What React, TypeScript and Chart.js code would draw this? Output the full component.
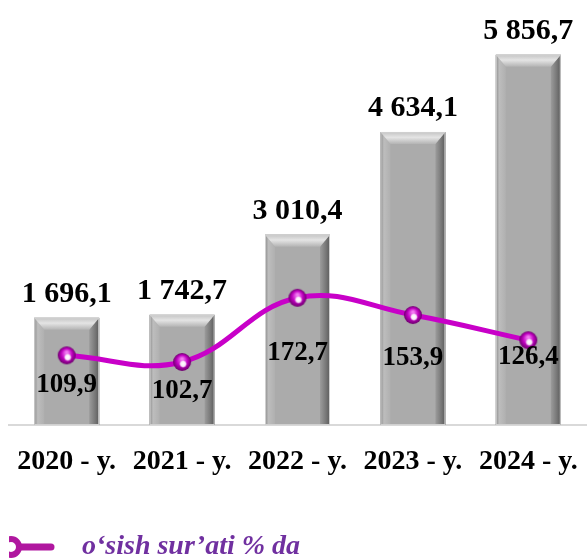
import React, { useEffect, useRef } from 'react';
import { Chart, registerables } from 'chart.js';

Chart.register(...registerables);

const years = ['2020 - y.', '2021 - y.', '2022 - y.', '2023 - y.', '2024 - y.'];
const volumes = [1696.1, 1742.7, 3010.4, 4634.1, 5856.7];
const growth = [109.9, 102.7, 172.7, 153.9, 126.4];
const legendLabel = 'o‘sish sur’ati % da';

const FONT = '"Liberation Serif", "Times New Roman", serif';

function fmt(v: number): string {
  const [i, d] = v.toFixed(1).split('.');
  return i.replace(/\B(?=(\d{3})+(?!\d))/g, ' ') + ',' + d;
}

function makeSphere(r: number): HTMLCanvasElement {
  const s = r * 2 + 2;
  const c = document.createElement('canvas');
  c.width = s;
  c.height = s;
  const g = c.getContext('2d') as CanvasRenderingContext2D;
  const cx = s / 2;
  const cy = s / 2;
  const grad = g.createRadialGradient(cx, cy - 3, 1, cx, cy, r);
  grad.addColorStop(0, '#F27AF2');
  grad.addColorStop(0.55, '#C000C0');
  grad.addColorStop(1, '#6E006E');
  g.fillStyle = grad;
  g.beginPath();
  g.arc(cx, cy, r, 0, Math.PI * 2);
  g.fill();
  const hl = g.createRadialGradient(cx + 1, cy + 2, 0, cx + 1, cy + 2, 4);
  hl.addColorStop(0, 'rgba(255,255,255,1)');
  hl.addColorStop(0.6, 'rgba(255,255,255,0.9)');
  hl.addColorStop(1, 'rgba(255,255,255,0)');
  g.fillStyle = hl;
  g.beginPath();
  g.arc(cx + 1, cy + 2, 4, 0, Math.PI * 2);
  g.fill();
  return c;
}

function makeLegendMarker(): HTMLCanvasElement {
  const c = document.createElement('canvas');
  c.width = 79;
  c.height = 26;
  const g = c.getContext('2d') as CanvasRenderingContext2D;
  const col = '#B0179F';
  g.strokeStyle = col;
  g.lineCap = 'round';
  g.lineWidth = 7;
  g.beginPath();
  g.moveTo(18, 13);
  g.lineTo(52, 13);
  g.stroke();
  g.lineWidth = 6;
  g.fillStyle = '#ffffff';
  g.beginPath();
  g.arc(12, 13, 8, 0, Math.PI * 2);
  g.fill();
  g.stroke();
  return c;
}

const bevelPlugin = {
  id: 'bevelBars',
  afterDatasetDraw(chart: any, args: any) {
    if (args.index !== 1) return;
    const ctx: CanvasRenderingContext2D = chart.ctx;
    const meta = chart.getDatasetMeta(1);
    meta.data.forEach((el: any) => {
      const p = el.getProps(['x', 'y', 'base', 'width'], true);
      const left = p.x - p.width / 2;
      const right = p.x + p.width / 2;
      const top = Math.min(p.y, p.base);
      const bottom = Math.max(p.y, p.base);
      const s = 10;
      const b = 12;
      ctx.save();
      ctx.fillStyle = '#ABABAB';
      ctx.fillRect(left, top, right - left, bottom - top);
      let gr = ctx.createLinearGradient(left, 0, left + s, 0);
      gr.addColorStop(0, '#8A8A8A');
      gr.addColorStop(0.35, '#BDBDBD');
      gr.addColorStop(1, '#B0B0B0');
      ctx.fillStyle = gr;
      ctx.beginPath();
      ctx.moveTo(left, top);
      ctx.lineTo(left + s, top + b);
      ctx.lineTo(left + s, bottom);
      ctx.lineTo(left, bottom);
      ctx.closePath();
      ctx.fill();
      gr = ctx.createLinearGradient(right - s, 0, right, 0);
      gr.addColorStop(0, '#9C9C9C');
      gr.addColorStop(0.6, '#777777');
      gr.addColorStop(1, '#5A5A5A');
      ctx.fillStyle = gr;
      ctx.beginPath();
      ctx.moveTo(right, top);
      ctx.lineTo(right - s, top + b);
      ctx.lineTo(right - s, bottom);
      ctx.lineTo(right, bottom);
      ctx.closePath();
      ctx.fill();
      gr = ctx.createLinearGradient(0, top, 0, top + b);
      gr.addColorStop(0, '#C4C4C4');
      gr.addColorStop(0.45, '#E4E4E4');
      gr.addColorStop(1, '#B4B4B4');
      ctx.fillStyle = gr;
      ctx.beginPath();
      ctx.moveTo(left, top);
      ctx.lineTo(right, top);
      ctx.lineTo(right - s, top + b);
      ctx.lineTo(left + s, top + b);
      ctx.closePath();
      ctx.fill();
      ctx.strokeStyle = '#D0D0D0';
      ctx.lineWidth = 1;
      ctx.strokeRect(left + 0.5, top + 0.5, right - left - 1, bottom - top - 1);
      ctx.restore();
    });
  },
};

const lineLabelOffsets = [30, 29, 55, 43, 17];

const labelPlugin = {
  id: 'valueLabels',
  afterDatasetsDraw(chart: any) {
    const ctx: CanvasRenderingContext2D = chart.ctx;
    const barMeta = chart.getDatasetMeta(1);
    const lineMeta = chart.getDatasetMeta(0);
    ctx.save();
    ctx.fillStyle = '#000000';
    ctx.textAlign = 'center';
    ctx.font = `bold 30px ${FONT}`;
    ctx.textBaseline = 'alphabetic';
    barMeta.data.forEach((el: any, i: number) => {
      ctx.fillText(fmt(volumes[i]), el.x, el.y - 16);
    });
    ctx.font = `bold 27px ${FONT}`;
    ctx.textBaseline = 'middle';
    lineMeta.data.forEach((pt: any, i: number) => {
      ctx.fillText(fmt(growth[i]), barMeta.data[i].x, pt.y + lineLabelOffsets[i]);
    });
    ctx.restore();
  },
};

export default function App() {
  const ref = useRef<HTMLCanvasElement>(null);
  useEffect(() => {
    document.body.style.margin = '0';
    const canvas = ref.current;
    if (!canvas) return;
    const sphere = makeSphere(9);
    const marker = makeLegendMarker();
    const chart = new Chart(canvas, {
      type: 'bar',
      data: {
        labels: years,
        datasets: [
          {
            type: 'line',
            label: legendLabel,
            data: growth,
            yAxisID: 'y2',
            borderColor: '#C800C8',
            backgroundColor: '#C800C8',
            borderWidth: 5,
            tension: 0.4,
            pointStyle: sphere,
            pointRadius: 9,
            order: 0,
          } as any,
          {
            type: 'bar',
            label: 'hajm',
            data: volumes,
            yAxisID: 'y',
            backgroundColor: '#ABABAB',
            barPercentage: 0.563,
            categoryPercentage: 1,
            order: 1,
          } as any,
        ],
      },
      options: {
        responsive: false,
        animation: false,
        layout: { autoPadding: false, padding: { top: 14, left: 9, right: 1, bottom: -11 } },
        plugins: {
          tooltip: { enabled: false },
          legend: {
            position: 'bottom',
            align: 'start',
            labels: {
              usePointStyle: true,
              pointStyle: marker as any,
              pointStyleWidth: 59,
              padding: 0,
              color: '#7030A0',
              font: { family: FONT, size: 28, style: 'italic', weight: 'bold' },
              filter: (item: any) => item.datasetIndex === 0,
            },
          },
        },
        scales: {
          x: {
            type: 'category',
            offset: true,
            grid: { display: false, drawTicks: true, tickLength: 20 },
            border: { display: true, color: '#D9D9D9', width: 2 },
            ticks: {
              color: '#000000',
              font: { family: FONT, size: 28, weight: 'bold' },
              padding: 0,
              maxRotation: 0,
              autoSkip: false,
            },
            afterFit: (s: any) => {
              s.height = 108;
            },
          },
          y: { display: false, min: 0, max: 6500 },
          y2: { display: false, min: 34, max: 482, position: 'right' },
        } as any,
      },
      plugins: [bevelPlugin, labelPlugin],
    });
    return () => chart.destroy();
  }, []);
  return <canvas ref={ref} width={587} height={560} style={{ display: 'block' }} />;
}
